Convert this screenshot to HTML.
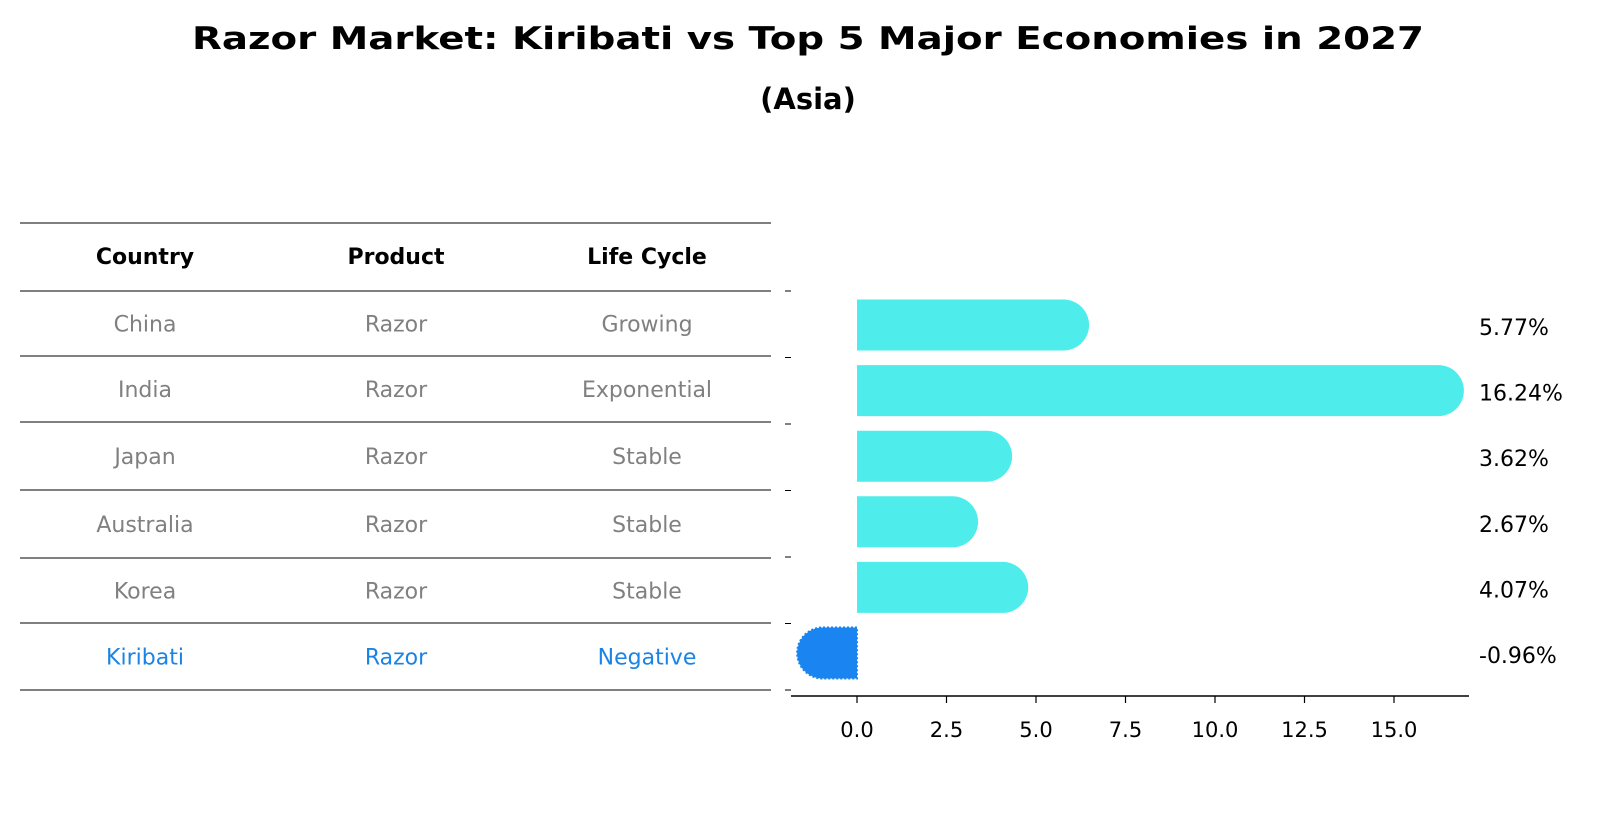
<!DOCTYPE html>
<html><head><meta charset="utf-8"><style>
body{margin:0;background:#fff;}
svg text{font-family:"DejaVu Sans","Liberation Sans",sans-serif;}
</style></head><body>
<svg width="1604" height="823" viewBox="0 0 1604 823" xmlns="http://www.w3.org/2000/svg">
<text x="808" y="49" text-anchor="middle" font-size="31" font-weight="bold" textLength="1232" lengthAdjust="spacingAndGlyphs">Razor Market: Kiribati vs Top 5 Major Economies in 2027</text>
<text x="808" y="109" text-anchor="middle" font-size="29" font-weight="bold">(Asia)</text>
<g id="table"></g>
<g id="bars"></g>
</svg>
<script>
const countries=["China","India","Japan","Australia","Korea","Kiribati"];
const products=["Razor","Razor","Razor","Razor","Razor","Razor"];
const lifecycle=["Growing","Exponential","Stable","Stable","Stable","Negative"];
const values=[5.77,16.24,3.62,2.67,4.07,-0.96];
const valueLabels=["5.77%","16.24%","3.62%","2.67%","4.07%","-0.96%"];
const ticks=[0,2.5,5,7.5,10,12.5,15];
const tickLabels=["0.0","2.5","5.0","7.5","10.0","12.5","15.0"];
const NS="http://www.w3.org/2000/svg";
function mk(t,a,p){const e=document.createElementNS(NS,t);for(const k in a)e.setAttribute(k,a[k]);p.appendChild(e);return e;}
const tb=document.getElementById('table');
const lines=[223,291,356,422,490,558,623,690];
lines.forEach(y=>{const l=mk('line',{x1:20,x2:771,y1:y,y2:y,stroke:'#000','stroke-width':1},tb);

});
const cols=[145,396,647];
["Country","Product","Life Cycle"].forEach((h,i)=>{const t=mk('text',{x:cols[i],y:264,'text-anchor':'middle','font-size':22,'font-weight':'bold'},tb);t.textContent=h;

});
countries.forEach((c,r)=>{const y=(lines[r+1]+lines[r+2])/2+8;const col=r===5?'#1a84e6':'#808080';
[c,products[r],lifecycle[r]].forEach((v,i)=>{const t=mk('text',{x:cols[i],y:y,'text-anchor':'middle','font-size':22,fill:col},tb);t.textContent=v;

});});
const bg=document.getElementById('bars');
const x0=857,ux=35.8;const X=v=>x0+v*ux;
const rowY=i=>325+i*65.6;const h=51,r=25.5;
for(let k=0;k<=6;k++){const y=291+k*66.5;const l=mk('line',{x1:785,x2:791,y1:y,y2:y,stroke:'#000','stroke-width':1},bg);

}
values.forEach((v,i)=>{const cy=rowY(i);const e=X(v);const neg=v<0;const col=neg?'#1a84f0':'#4eecea';
const d=neg?`M${x0},${cy-h/2} L${e},${cy-h/2} A${r},${r} 0 0 0 ${e},${cy+h/2} L${x0},${cy+h/2} Z`:`M${x0},${cy-h/2} L${e},${cy-h/2} A${r},${r} 0 0 1 ${e},${cy+h/2} L${x0},${cy+h/2} Z`;
const p=mk('path',{d:d,fill:col},bg);if(neg){p.setAttribute('stroke','#1a84f0');p.setAttribute('stroke-dasharray','2,2');p.setAttribute('stroke-width','2');}


const t=mk('text',{x:1479,y:cy+10,'font-size':22},bg);t.textContent=valueLabels[i];

});
const ax=mk('line',{x1:791,x2:1469,y1:696,y2:696,stroke:'#000','stroke-width':1.5},bg);


ticks.forEach((v,i)=>{const l=mk('line',{x1:X(v),x2:X(v),y1:696,y2:703,stroke:'#000','stroke-width':1.2},bg);


const t=mk('text',{x:X(v),y:737,'text-anchor':'middle','font-size':21},bg);t.textContent=tickLabels[i];

});
</script>
</body></html>
